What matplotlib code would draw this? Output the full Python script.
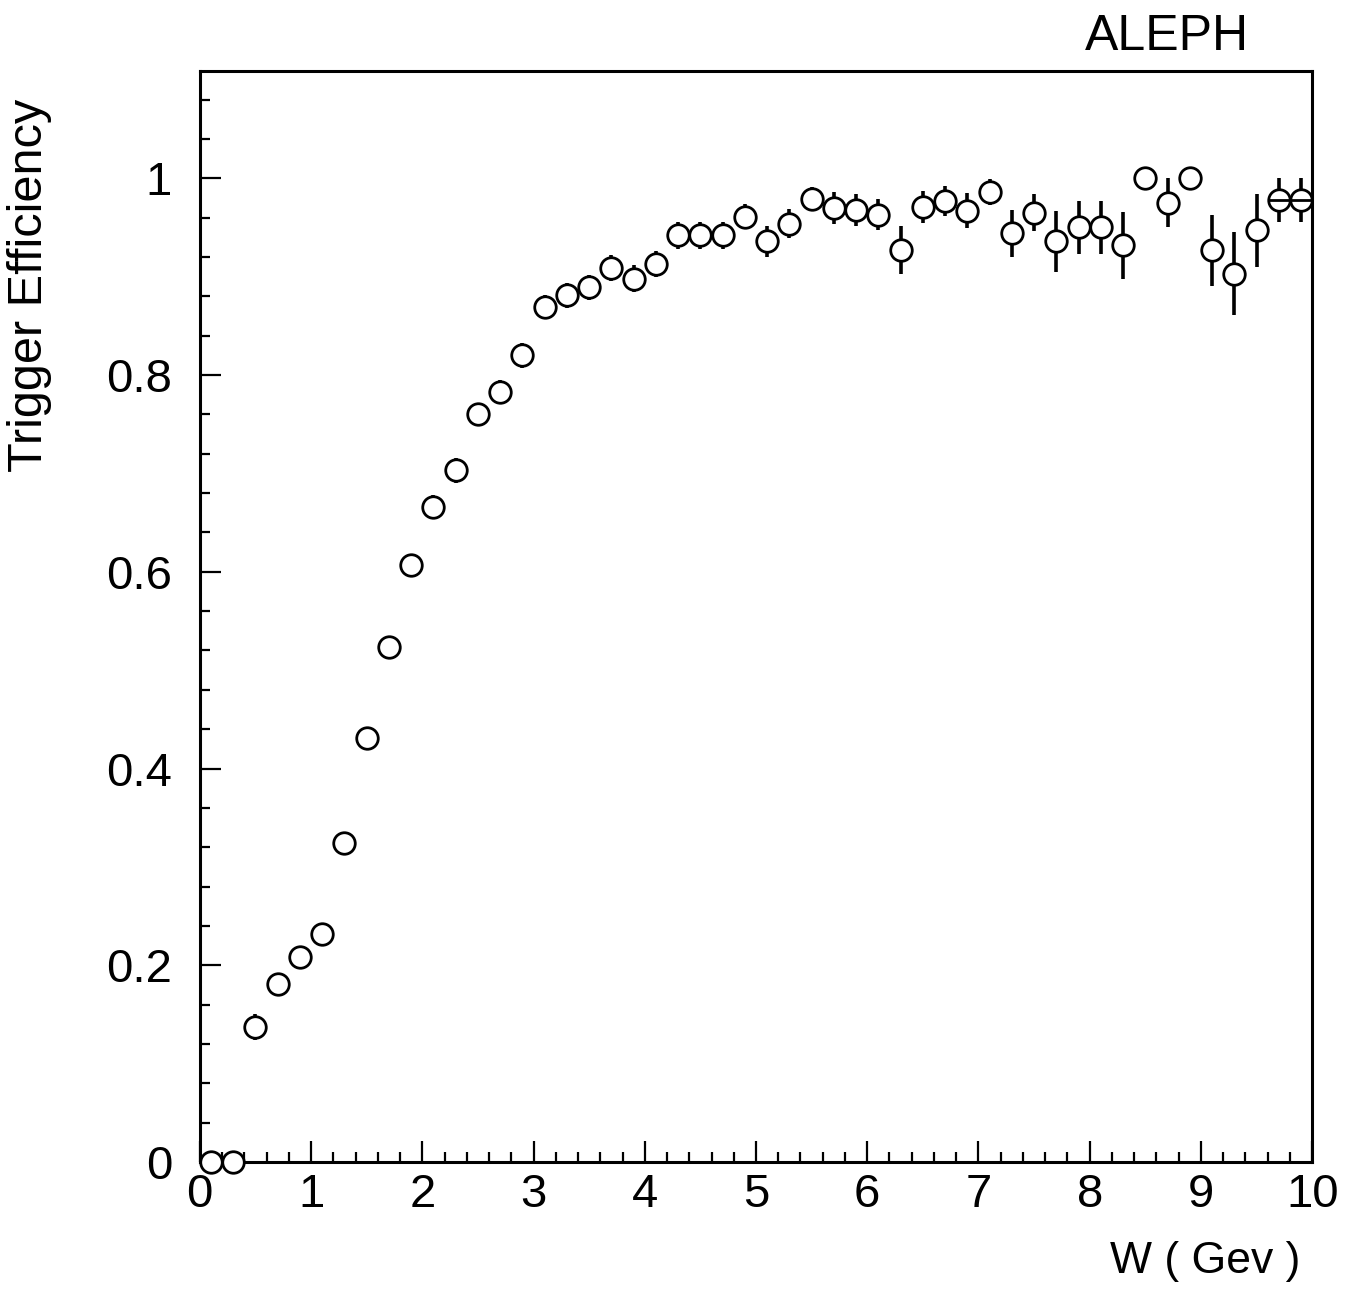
import matplotlib
matplotlib.use("Agg")
import matplotlib.pyplot as plt
from matplotlib.ticker import MultipleLocator

plt.rcParams['font.family'] = ['Liberation Sans', 'DejaVu Sans']

# bin centres (GeV)
w = [0.1, 0.3, 0.5, 0.7, 0.9, 1.1, 1.3, 1.5, 1.7, 1.9,
     2.1, 2.3, 2.5, 2.7, 2.9, 3.1, 3.3, 3.5, 3.7, 3.9,
     4.1, 4.3, 4.5, 4.7, 4.9, 5.1, 5.3, 5.5, 5.7, 5.9,
     6.1, 6.3, 6.5, 6.7, 6.9, 7.1, 7.3, 7.5, 7.7, 7.9,
     8.1, 8.3, 8.5, 8.7, 8.9, 9.1, 9.3, 9.5, 9.7, 9.9]

eff = [0.0, 0.0, 0.137, 0.181, 0.208, 0.232, 0.324, 0.431, 0.524, 0.607,
       0.666, 0.703, 0.760, 0.783, 0.820, 0.869, 0.881, 0.889, 0.909, 0.898,
       0.913, 0.942, 0.942, 0.942, 0.961, 0.936, 0.954, 0.979, 0.970, 0.968,
       0.963, 0.927, 0.971, 0.977, 0.967, 0.986, 0.944, 0.965, 0.936, 0.950,
       0.950, 0.932, 1.000, 0.975, 1.000, 0.927, 0.903, 0.947, 0.978, 0.978]

err = [0.0, 0.0, 0.013, 0.011, 0.011, 0.011, 0.011, 0.011, 0.011, 0.011,
       0.012, 0.013, 0.012, 0.012, 0.013, 0.012, 0.013, 0.013, 0.013, 0.014,
       0.013, 0.014, 0.014, 0.014, 0.013, 0.016, 0.015, 0.012, 0.016, 0.016,
       0.016, 0.024, 0.016, 0.015, 0.018, 0.013, 0.024, 0.019, 0.031, 0.027,
       0.027, 0.034, 0.0, 0.025, 0.0, 0.036, 0.042, 0.037, 0.022, 0.022]

# horizontal bars only show on the last two bins
werr = [0.0] * 48 + [0.1, 0.1]

fig = plt.figure(figsize=(13.5, 12.92), dpi=100)
ax = fig.add_axes([0.148, 0.1006, 0.824, 0.8444])

ax.errorbar(w, eff, yerr=err, fmt='o', ms=15.5, mfc='white', mec='black',
            mew=2.0, ecolor='black', elinewidth=2.6, capsize=0,
            clip_on=False, zorder=3)
ax.errorbar(w, eff, xerr=werr, fmt='none', ecolor='black',
            elinewidth=2.0, capsize=0, zorder=4)

ax.set_xlim(0, 10)
ax.set_ylim(0, 1.109)

ax.xaxis.set_major_locator(MultipleLocator(1))
ax.xaxis.set_minor_locator(MultipleLocator(0.2))
ax.yaxis.set_major_locator(MultipleLocator(0.2))
ax.yaxis.set_minor_locator(MultipleLocator(0.04))
ax.set_yticks([0, 0.2, 0.4, 0.6, 0.8, 1.0])
ax.set_yticklabels(['0', '0.2', '0.4', '0.6', '0.8', '1'])

ax.tick_params(which='both', direction='in', top=False, right=False,
               width=1.6, labelsize=34)
ax.tick_params(which='major', length=15)
ax.tick_params(which='minor', length=7.5)
ax.tick_params(axis='x', pad=8)
ax.tick_params(axis='y', pad=20)

for s in ax.spines.values():
    s.set_linewidth(2.2)

fig.text(1300 / 1350, 1 - 1262 / 1292, 'W ( Gev )', fontsize=32,
         ha='right', va='center')
fig.text(30 / 1350, 1 - 285 / 1292, 'Trigger Efficiency', fontsize=35,
         rotation=90, ha='center', va='center')
fig.text(1167 / 1350, 1 - 37 / 1292, 'ALEPH', fontsize=36,
         ha='center', va='center')

fig.savefig('out.png', dpi=100)
